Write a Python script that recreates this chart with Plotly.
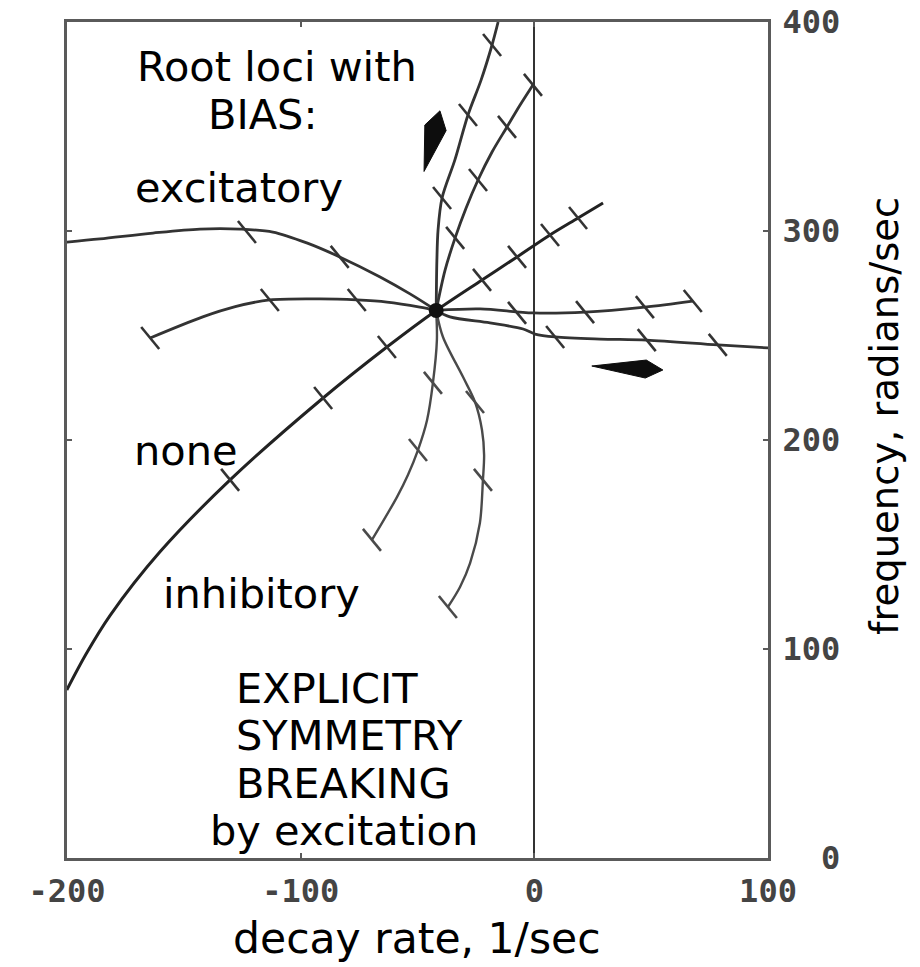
import numpy as np
import plotly.graph_objects as go

# ---------------------------------------------------------------- data
# Common meeting point of the root loci (decay rate, frequency)
CENTER = (-42.0, 262.0)

# Excitatory bias: locus coming in from the left ...
EXC_LEFT_X = [-200.1, -185.9, -163.2, -143.1, -126.0, -111.9, -97.4, -83.3, -66.0, -53.2, -42.0]
EXC_LEFT_Y = [294.7, 296.2, 299.0, 300.9, 300.9, 299.5, 294.3, 287.6, 278.0, 269.9, 262.0]
EXC_LEFT_TICK_X = [-123.0, -83.3]
EXC_LEFT_TICK_Y = [299.5, 287.6]

# ... and leaving to the right (crosses into the unstable half-plane)
EXC_RIGHT_X = [-42.0, -36.1, -19.0, -4.8, 0.3, 8.9, 28.1, 48.1, 78.5, 100.8]
EXC_RIGHT_Y = [262.0, 258.9, 256.0, 253.1, 250.7, 249.3, 248.3, 247.8, 245.5, 244.0]
EXC_RIGHT_TICK_X = [8.9, 48.1, 78.5]
EXC_RIGHT_TICK_Y = [249.3, 247.8, 245.5]

# Second excitatory branch: short arc on the left ...
ARC_LEFT_X = [-164.4, -141.9, -128.0, -113.2, -91.8, -76.0, -63.1, -49.0, -42.0]
ARC_LEFT_Y = [248.8, 258.9, 263.8, 267.0, 267.5, 267.0, 266.0, 263.6, 262.0]
ARC_LEFT_TICK_X = [-164.4, -113.2, -76.0]
ARC_LEFT_TICK_Y = [248.8, 267.0, 267.0]

# ... and its flat continuation to the right
ARC_RIGHT_X = [-42.0, -23.2, -0.6, 21.7, 47.3, 67.8]
ARC_RIGHT_Y = [262.0, 262.7, 260.8, 261.2, 263.6, 266.5]
ARC_RIGHT_TICK_X = [-7.4, 21.7, 47.3, 67.8]
ARC_RIGHT_TICK_Y = [260.8, 261.2, 263.6, 266.5]

# No bias
NONE_X = [-200.1, -191.9, -181.6, -160.2, -130.2, -90.4, -63.1, -42.0, -22.4, -7.4, 6.7, 18.7, 29.4]
NONE_Y = [80.4, 97.5, 116.0, 146.5, 180.9, 220.1, 244.5, 262.0, 276.6, 287.6, 298.1, 306.2, 313.4]
NONE_TICK_X = [-130.2, -90.4, -63.1, -22.4, -7.4, 6.7, 18.7]
NONE_TICK_Y = [180.9, 220.1, 244.5, 276.6, 287.6, 298.1, 306.2]

# Upward branches
UP_A_X = [-42.0, -41.7, -41.2, -39.5, -34.0, -28.4, -22.8, -18.1, -15.5]
UP_A_Y = [262.0, 286.1, 300.5, 315.8, 334.0, 355.5, 372.2, 389.0, 400.0]
UP_A_TICK_X = [-39.5, -28.4, -18.1]
UP_A_TICK_Y = [315.8, 355.5, 389.0]

UP_B_X = [-42.0, -38.2, -33.9, -29.2, -24.1, -18.1, -11.7, -6.1, -0.6]
UP_B_Y = [262.0, 281.3, 296.7, 311.0, 324.4, 337.8, 349.8, 360.3, 369.9]
UP_B_TICK_X = [-33.9, -24.1, -11.7, -0.6]
UP_B_TICK_Y = [296.7, 324.4, 349.8, 369.9]

# Inhibitory bias: downward branches
DOWN_C_X = [-42.0, -41.7, -43.4, -45.9, -49.8, -54.1, -58.8, -69.5]
DOWN_C_Y = [262.0, 247.8, 227.3, 209.6, 195.2, 183.3, 172.7, 152.2]
DOWN_C_TICK_X = [-43.4, -49.8, -69.5]
DOWN_C_TICK_Y = [227.3, 195.2, 152.2]

DOWN_D_X = [-42.0, -39.1, -30.5, -25.4, -22.4, -21.5, -22.0, -23.3, -27.5, -31.8, -37.0]
DOWN_D_Y = [262.0, 249.3, 230.1, 218.2, 204.8, 192.8, 180.9, 160.3, 141.1, 129.7, 120.1]
DOWN_D_TICK_X = [-25.4, -22.0, -37.0]
DOWN_D_TICK_Y = [218.2, 180.9, 120.1]

# Direction arrows: (start x, start y, end x, end y)
ARROW_LOCI = [(-47.2, 328.5, -40.4, 357.5), (24.6, 235.4, 55.0, 233.5)]

X_TICKS = [-200, -100, 0, 100]
X_TICK_TEXT = ["-200", "-100", "0", "100"]
Y_TICKS = [0, 100, 200, 300, 400]
Y_TICK_TEXT = ["\u00a0\u00a00", "100", "200", "300", "400"]

# ---------------------------------------------------------------- geometry
FIG_W, FIG_H = 920, 967
M_L, M_R, M_T, M_B = 67, 152, 22, 109
X_RANGE = [-200, 100]
Y_RANGE = [0, 400]
PLOT_W = FIG_W - M_L - M_R
PLOT_H = FIG_H - M_T - M_B
SX = PLOT_W / (X_RANGE[1] - X_RANGE[0])   # px per unit of decay rate
SY = PLOT_H / (Y_RANGE[1] - Y_RANGE[0])   # px per unit of frequency

LINE_COLOR = "#333333"
FRAME_COLOR = "#5a5a5a"
TEXT_FONT = "DejaVu Sans"
TICK_FONT = "DejaVu Sans Mono"

fig = go.Figure()


def locus(xs, ys, width=2.8, color=LINE_COLOR):
    fig.add_trace(go.Scatter(x=xs, y=ys, mode="lines",
                             line=dict(color=color, width=width, shape="spline", smoothing=0.9),
                             hoverinfo="skip", showlegend=False))


def tick_marks(xs, ys, width=2.6, color=LINE_COLOR):
    # short slanted cross-marks, fixed size in screen pixels
    hx, hy = 9 / SX, 11 / SY
    tx, ty = [], []
    for x, y in zip(xs, ys):
        tx += [x - hx, x + hx, None]
        ty += [y + hy, y - hy, None]
    fig.add_trace(go.Scatter(x=tx, y=ty, mode="lines",
                             line=dict(color=color, width=width),
                             hoverinfo="skip", showlegend=False))


locus(EXC_LEFT_X, EXC_LEFT_Y)
locus(EXC_RIGHT_X, EXC_RIGHT_Y)
locus(ARC_LEFT_X, ARC_LEFT_Y)
locus(ARC_RIGHT_X, ARC_RIGHT_Y)
locus(NONE_X, NONE_Y, width=3.0, color="#222222")
locus(UP_A_X, UP_A_Y)
locus(UP_B_X, UP_B_Y)
locus(DOWN_C_X, DOWN_C_Y, width=2.4, color="#4a4a4a")
locus(DOWN_D_X, DOWN_D_Y, width=2.4, color="#4a4a4a")

tick_marks(EXC_LEFT_TICK_X, EXC_LEFT_TICK_Y)
tick_marks(EXC_RIGHT_TICK_X, EXC_RIGHT_TICK_Y)
tick_marks(ARC_LEFT_TICK_X, ARC_LEFT_TICK_Y)
tick_marks(ARC_RIGHT_TICK_X, ARC_RIGHT_TICK_Y)
tick_marks(NONE_TICK_X, NONE_TICK_Y)
tick_marks(UP_A_TICK_X, UP_A_TICK_Y)
tick_marks(UP_B_TICK_X, UP_B_TICK_Y)
tick_marks(DOWN_C_TICK_X, DOWN_C_TICK_Y, color="#4a4a4a")
tick_marks(DOWN_D_TICK_X, DOWN_D_TICK_Y, color="#4a4a4a")

# blot where all loci meet
fig.add_trace(go.Scatter(x=[CENTER[0]], y=[CENTER[1]], mode="markers",
                         marker=dict(color="#111111", size=15),
                         hoverinfo="skip", showlegend=False))

# kite-shaped direction arrows (shoulder position and width in px)
ARROW_STYLE = [(0.72, 22), (0.76, 18)]
for (x0, y0, x1, y1), (frac, wpx) in zip(ARROW_LOCI, ARROW_STYLE):
    ax, ay = x0 * SX, y0 * SY
    bx, by = x1 * SX, y1 * SY
    dx, dy = bx - ax, by - ay
    ln = np.hypot(dx, dy)
    nx, ny = -dy / ln, dx / ln
    sx_, sy_ = ax + frac * dx, ay + frac * dy
    pts = [(ax, ay), (sx_ + nx * wpx / 2, sy_ + ny * wpx / 2), (bx, by),
           (sx_ - nx * wpx / 2, sy_ - ny * wpx / 2), (ax, ay)]
    fig.add_trace(go.Scatter(x=[p[0] / SX for p in pts], y=[p[1] / SY for p in pts],
                             mode="lines", fill="toself", fillcolor="#0d0d0d",
                             line=dict(color="#0d0d0d", width=1),
                             hoverinfo="skip", showlegend=False))


# ---------------------------------------------------------------- text
def px_note(text, px, py, size=41.5, angle=0, xanchor="center"):
    fig.add_annotation(text=text, x=(px - M_L) / PLOT_W, y=(FIG_H - M_B - py) / PLOT_H,
                       xref="paper", yref="paper", showarrow=False, textangle=angle,
                       xanchor=xanchor, yanchor="middle",
                       font=dict(family=TEXT_FONT, size=size, color="#000000"))


px_note("Root loci with", 277, 66)
px_note("BIAS:", 262, 114)
px_note("excitatory", 239, 188)
px_note("none", 186, 450)
px_note("inhibitory", 261, 593)
px_note("EXPLICIT", 234, 688, xanchor="left")
px_note("SYMMETRY", 234, 735, xanchor="left")
px_note("BREAKING", 234, 783, xanchor="left")
px_note("by excitation", 344, 830)
px_note("decay rate, 1/sec", 417, 938, size=42.5)
px_note("frequency, radians/sec", 885, 416, size=38.5, angle=-90)

axis_common = dict(showline=True, linecolor=FRAME_COLOR, linewidth=3, mirror="ticks",
                   ticks="inside", ticklen=5, tickwidth=2, tickcolor=FRAME_COLOR,
                   showgrid=False, automargin=False,
                   tickfont=dict(family=TICK_FONT, size=32, color="#444444", weight="bold"))

fig.update_layout(
    width=FIG_W, height=FIG_H,
    margin=dict(l=M_L, r=M_R, t=M_T, b=M_B, pad=0, autoexpand=False),
    paper_bgcolor="white", plot_bgcolor="white",
    showlegend=False,
    xaxis=dict(range=X_RANGE, tickmode="array", tickvals=X_TICKS, ticktext=X_TICK_TEXT,
               zeroline=True, zerolinecolor="#333333", zerolinewidth=2.4,
               ticklabelstandoff=3, **axis_common),
    yaxis=dict(range=Y_RANGE, side="right", tickmode="array", tickvals=Y_TICKS,
               ticktext=Y_TICK_TEXT, zeroline=False, ticklabelstandoff=5, **axis_common),
)

fig.write_html("out.html")
